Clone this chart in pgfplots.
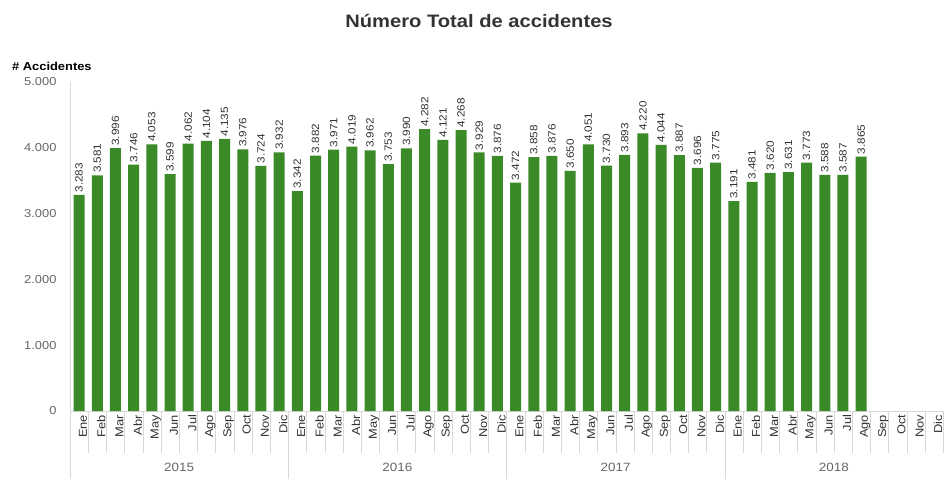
\documentclass[border=0pt]{standalone}
\usepackage{pgfplots}
\pgfplotsset{compat=1.18}
\usepackage{fontspec}
\setmainfont{Liberation Sans}
\newfontfamily\widefont[FakeStretch=1.12]{Liberation Sans}
\definecolor{bargreen}{RGB}{58,138,40}
\definecolor{gridgray}{RGB}{216,216,216}
\definecolor{ticktxt}{RGB}{102,102,102}
\definecolor{labtxt}{RGB}{51,51,51}
\begin{document}
\begin{tikzpicture}[x=1pt,y=1pt]
\useasboundingbox (-70,-69) rectangle (877,411);
\begin{axis}[
  at={(0,0)}, anchor=south west,
  scale only axis, width=873pt, height=329pt,
  xmin=-0.5, xmax=47.5, ymin=0, ymax=5000,
  ybar, bar width=11pt,
  clip=false,
  axis x line*=bottom, axis y line*=left,
  axis line style={-, draw=gridgray},
  ytick={0,1000,2000,3000,4000,5000},
  yticklabel style={font=\widefont\fontsize{11.5}{13}\selectfont, text=ticktxt, anchor=east, xshift=-10pt},
  /pgf/number format/1000 sep={.},
  /pgf/number format/assume math mode=true,
  xtick={0,...,47},
  xticklabels={Ene,Feb,Mar,Abr,May,Jun,Jul,Ago,Sep,Oct,Nov,Dic,
               Ene,Feb,Mar,Abr,May,Jun,Jul,Ago,Sep,Oct,Nov,Dic,
               Ene,Feb,Mar,Abr,May,Jun,Jul,Ago,Sep,Oct,Nov,Dic,
               Ene,Feb,Mar,Abr,May,Jun,Jul,Ago,Sep,Oct,Nov,Dic},
  xticklabel style={rotate=90, xscale=1.12, anchor=east, font=\fontsize{11.5}{13}\selectfont, text=labtxt, yshift=-4pt},
  major tick length=0pt,
  minor xtick={-0.5,0.5,...,47.5},
  minor tick length=42pt,
  tick align=outside,
  minor tick style={draw=gridgray},
  nodes near coords,
  nodes near coords style={rotate=90, xscale=1.12, anchor=west, font=\fontsize{10.5}{12}\selectfont, text=labtxt, inner sep=2pt},
]
\addplot[fill=bargreen, draw=none] coordinates {
(0,3283) (1,3581) (2,3996) (3,3746) (4,4053) (5,3599) (6,4062) (7,4104) (8,4135) (9,3976) (10,3724) (11,3932)
(12,3342) (13,3882) (14,3971) (15,4019) (16,3962) (17,3753) (18,3990) (19,4282) (20,4121) (21,4268) (22,3929) (23,3876)
(24,3472) (25,3858) (26,3876) (27,3650) (28,4051) (29,3730) (30,3893) (31,4220) (32,4044) (33,3887) (34,3696) (35,3775)
(36,3191) (37,3481) (38,3620) (39,3631) (40,3773) (41,3588) (42,3587) (43,3865)
};
\draw[gridgray] (axis cs:-0.5,0) -- ([yshift=-68pt]axis cs:-0.5,0);
\draw[gridgray] (axis cs:11.5,0) -- ([yshift=-68pt]axis cs:11.5,0);
\draw[gridgray] (axis cs:23.5,0) -- ([yshift=-68pt]axis cs:23.5,0);
\draw[gridgray] (axis cs:35.5,0) -- ([yshift=-68pt]axis cs:35.5,0);
\node[text=ticktxt, font=\widefont\fontsize{12}{14}\selectfont] at (axis cs:5.5,0) [yshift=-56pt] {2015};
\node[text=ticktxt, font=\widefont\fontsize{12}{14}\selectfont] at (axis cs:17.5,0) [yshift=-56pt] {2016};
\node[text=ticktxt, font=\widefont\fontsize{12}{14}\selectfont] at (axis cs:29.5,0) [yshift=-56pt] {2017};
\node[text=ticktxt, font=\widefont\fontsize{12}{14}\selectfont] at (axis cs:41.5,0) [yshift=-56pt] {2018};
\node[anchor=west, font=\widefont\fontsize{11.5}{14}\selectfont\bfseries, text=black, inner sep=0pt] at (rel axis cs:0,1) [xshift=-58pt, yshift=16pt] {\# Accidentes};
\end{axis}
\node[font=\widefont\fontsize{18}{21}\selectfont\bfseries, text=labtxt] at (409,390) {Número Total de accidentes};
\end{tikzpicture}
\end{document}
